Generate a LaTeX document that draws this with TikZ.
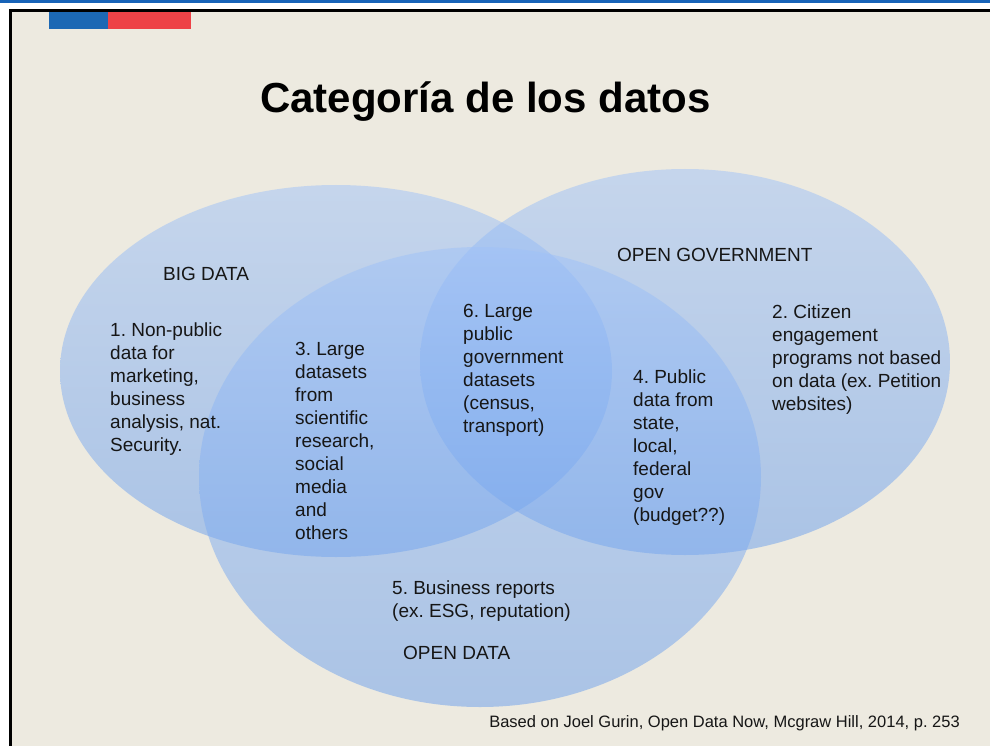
\documentclass[tikz,border=0pt]{standalone}
\usepackage{fontspec}
\setmainfont{Liberation Sans}
\usepackage{xcolor}
\usetikzlibrary{positioning}
\definecolor{slidebg}{HTML}{EDEAE0}
\definecolor{bandblue}{HTML}{1763B8}
\definecolor{flagblue}{HTML}{1C68B4}
\definecolor{flagred}{HTML}{EE4247}
\definecolor{venntop}{HTML}{9FC2F8}
\definecolor{vennbot}{HTML}{699EEC}
\definecolor{darktext}{HTML}{161616}
\frenchspacing

\begin{document}
\begin{tikzpicture}[x=1pt, y=-1pt,
            venn/.style={top color=venntop, bottom color=vennbot, fill opacity=0.5},
            item/.style={anchor=north west, inner sep=0pt, align=left, text=darktext,
                         font=\fontsize{19}{23}\selectfont},
            setname/.style={anchor=base west, inner sep=0pt, text=darktext,
                         font=\fontsize{19}{23}\selectfont}]
            % slide frame
            \useasboundingbox (0,0) rectangle (990,746);
            \fill[white] (0,0) rectangle (990,746);
            \fill[bandblue] (0,0) rectangle (990,3.5);
            \fill[slidebg] (12,12.5) rectangle (990,746);
            \fill[black] (9,9.5) rectangle (990,12.5);
            \fill[black] (9,9.5) rectangle (12,746);
            \fill[flagblue] (49,12.5) rectangle (108,29);
            \fill[flagred] (108,12.5) rectangle (191,29);
            % title
            \node[anchor=base west, inner sep=0pt, text=black,
                  font=\fontsize{42}{48}\selectfont\bfseries] (title) at (260,113) {Categoría de los datos};
            % the three sets
            \coordinate (bdc) at (336,371);
            \coordinate (ogc) at (685,362);
            \coordinate (odc) at (480,477);
            \shade[venn] (bdc) ellipse [x radius=276, y radius=186];
            \shade[venn] (ogc) ellipse [x radius=265, y radius=193];
            \shade[venn] (odc) ellipse [x radius=281, y radius=230];
            % set names
            \node[setname] (bigdata) at (163,280) {BIG DATA};
            \node[setname] (opengov) at (617,261.5) {OPEN GOVERNMENT};
            \node[setname] (opendata) at (403,659.5) {OPEN DATA};
            % regions
            \node[item] (one) at (110,323) {1. Non-public\\data for\\marketing,\\business\\analysis, nat.\\Security.};
            \node[item] (two) at (772,305) {2. Citizen\\engagement\\programs not based\\on data (ex. Petition\\websites)};
            \node[item] (three) at (295,342) {3. Large\\datasets\\from\\scientific\\research,\\social\\media\\and\\others};
            \node[item] (four) at (633,370) {4. Public\\data from\\state,\\local,\\federal\\gov\\(budget??)};
            \node[item] (five) at (392,581) {5. Business reports\\(ex. ESG, reputation)};
            \node[item] (six) at (463,304) {6. Large\\public\\government\\datasets\\(census,\\transport)};
            % source
            \node[anchor=base east, inner sep=0pt, text=darktext,
                  font=\fontsize{16.5}{19}\selectfont] (source) at (960,727) {Based on Joel Gurin, Open Data Now, Mcgraw Hill, 2014, p. 253};
        \end{tikzpicture}
\end{document}
